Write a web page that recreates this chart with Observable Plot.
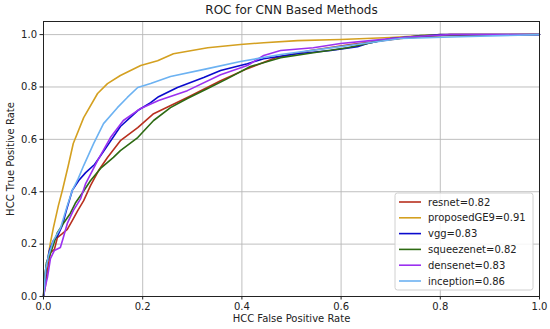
<!DOCTYPE html>
<html><head><meta charset="utf-8">
<script src="https://cdn.jsdelivr.net/npm/d3@7"></script>
<script src="https://cdn.jsdelivr.net/npm/@observablehq/plot@0.6"></script>
<style>body{margin:0;background:#fff} svg{font-family:"DejaVu Sans",sans-serif}</style>
</head><body><div id="chart"></div><script>
const title = "ROC for CNN Based Methods";
const xLabel = "HCC False Positive Rate";
const yLabel = "HCC True Positive Rate";
const seriesNames = ["resnet", "proposedGE9", "vgg", "squeezenet", "densenet", "inception"];
const aucValues = [0.82, 0.91, 0.83, 0.82, 0.83, 0.86];
const seriesColors = ["#b8301e", "#d4a020", "#0a0acd", "#2d6a12", "#9b30f0", "#6cb2f2"];
const tickValues = [0, 0.2, 0.4, 0.6, 0.8, 1.0];

const resnetFPR = [0, 0.004, 0.008, 0.014, 0.022, 0.028, 0.038, 0.048, 0.058, 0.069, 0.081, 0.095, 0.111, 0.129, 0.155, 0.19, 0.222, 0.29, 0.357, 0.411, 0.468, 0.538, 0.619, 0.72, 0.82, 1];
const resnetTPR = [0, 0.042, 0.1, 0.168, 0.18, 0.225, 0.24, 0.256, 0.29, 0.328, 0.366, 0.424, 0.481, 0.531, 0.595, 0.645, 0.698, 0.76, 0.824, 0.87, 0.912, 0.939, 0.962, 0.985, 1, 1];

const proposedFPR = [0, 0.002, 0.008, 0.014, 0.02, 0.03, 0.038, 0.05, 0.06, 0.081, 0.109, 0.129, 0.155, 0.196, 0.23, 0.262, 0.331, 0.397, 0.444, 0.512, 0.599, 0.70, 0.80, 1];
const proposedTPR = [0, 0.08, 0.137, 0.206, 0.263, 0.347, 0.405, 0.5, 0.584, 0.683, 0.775, 0.813, 0.844, 0.882, 0.90, 0.927, 0.95, 0.962, 0.969, 0.977, 0.981, 0.989, 1, 1];

const vggFPR = [0, 0.002, 0.006, 0.012, 0.02, 0.028, 0.038, 0.046, 0.058, 0.071, 0.085, 0.103, 0.129, 0.155, 0.19, 0.216, 0.232, 0.27, 0.323, 0.357, 0.411, 0.444, 0.512, 0.579, 0.633, 0.653, 0.70, 0.80, 1];
const vggTPR = [0, 0.042, 0.118, 0.176, 0.214, 0.229, 0.271, 0.328, 0.405, 0.443, 0.473, 0.504, 0.576, 0.649, 0.71, 0.74, 0.763, 0.798, 0.836, 0.863, 0.889, 0.908, 0.927, 0.939, 0.954, 0.966, 0.985, 1, 1];

const squeezenetFPR = [0, 0.002, 0.006, 0.014, 0.02, 0.028, 0.04, 0.054, 0.065, 0.079, 0.095, 0.115, 0.141, 0.155, 0.19, 0.222, 0.256, 0.29, 0.331, 0.371, 0.417, 0.478, 0.544, 0.613, 0.679, 0.76, 1];
const squeezenetTPR = [0, 0.061, 0.13, 0.164, 0.198, 0.244, 0.279, 0.317, 0.359, 0.397, 0.443, 0.489, 0.531, 0.557, 0.607, 0.672, 0.721, 0.756, 0.794, 0.832, 0.878, 0.912, 0.931, 0.95, 0.977, 0.996, 1];

const densenetFPR = [0, 0.004, 0.008, 0.014, 0.022, 0.034, 0.04, 0.048, 0.06, 0.075, 0.085, 0.109, 0.135, 0.161, 0.196, 0.232, 0.29, 0.357, 0.411, 0.444, 0.478, 0.544, 0.599, 0.659, 0.74, 0.82, 1];
const densenetTPR = [0, 0.042, 0.073, 0.145, 0.176, 0.187, 0.225, 0.279, 0.328, 0.374, 0.431, 0.519, 0.607, 0.672, 0.718, 0.748, 0.786, 0.847, 0.882, 0.92, 0.939, 0.95, 0.966, 0.977, 0.992, 1, 1];

const inceptionFPR = [0, 0.002, 0.004, 0.01, 0.02, 0.034, 0.048, 0.058, 0.07, 0.081, 0.101, 0.121, 0.149, 0.169, 0.19, 0.216, 0.256, 0.331, 0.397, 0.478, 0.599, 0.72, 0.84, 1];
const inceptionTPR = [0, 0.042, 0.1, 0.156, 0.214, 0.26, 0.347, 0.405, 0.45, 0.5, 0.584, 0.66, 0.721, 0.76, 0.798, 0.813, 0.84, 0.87, 0.897, 0.924, 0.954, 0.985, 0.992, 1];

const fprs = [resnetFPR, proposedFPR, vggFPR, squeezenetFPR, densenetFPR, inceptionFPR];
const tprs = [resnetTPR, proposedTPR, vggTPR, squeezenetTPR, densenetTPR, inceptionTPR];

const rows = seriesNames.flatMap((name, i) => fprs[i].map((f, j) => ({name, fpr: f, tpr: tprs[i][j]})));
const legendLabels = seriesNames.map((n, i) => `${n}=${aucValues[i].toFixed(2)}`);

const plot = Plot.plot({
  width: 550, height: 329,
  marginTop: 21, marginLeft: 43, marginRight: 11, marginBottom: 33,
  style: {fontFamily: "DejaVu Sans, sans-serif", fontSize: "10px", background: "#fff", color: "#222"},
  x: {domain: [0, 1]},
  y: {domain: [0, 1.05]},
  color: {domain: seriesNames, range: seriesColors},
  marks: [
    Plot.gridX(tickValues, {stroke: "#b8b8b8", strokeOpacity: 1, strokeWidth: 0.9}),
    Plot.gridY(tickValues, {stroke: "#b8b8b8", strokeOpacity: 1, strokeWidth: 0.9}),
    Plot.line(rows, {x: "fpr", y: "tpr", z: "name", stroke: "name", strokeWidth: 1.6}),
    Plot.frame({stroke: "#222", strokeWidth: 1}),
    Plot.axisX(tickValues, {tickSize: 3.5, tickFormat: d3.format(".1f"), label: null, tickPadding: 3, fontSize: 10}),
    Plot.axisY(tickValues, {tickSize: 3.5, tickFormat: d3.format(".1f"), label: null, tickPadding: 3, fontSize: 10}),
    Plot.text([title], {frameAnchor: "top", dy: -11, lineAnchor: "middle", fontSize: 12}),
    Plot.text([xLabel], {frameAnchor: "bottom", dy: 22, lineAnchor: "middle", fontSize: 10}),
    Plot.text([yLabel], {frameAnchor: "left", dx: -33, rotate: -90, lineAnchor: "middle", textAnchor: "middle", fontSize: 10})
  ]
});

// legend (matplotlib-style, lower right)
const svg = d3.select(plot);
const fr = {right: 550 - 11, bottom: 329 - 33};
const boxW = 138, boxH = 97;
const bx = fr.right - 6 - boxW, by = fr.bottom - 6 - boxH;
const lg = svg.append("g").attr("text-anchor", "start");
lg.append("rect").attr("x", bx).attr("y", by).attr("width", boxW).attr("height", boxH)
  .attr("rx", 2.5).attr("fill", "#fff").attr("fill-opacity", 0.85).attr("stroke", "#d0d0d0");
legendLabels.forEach((lab, i) => {
  const cy = by + 9 + i * 15.8;
  lg.append("line").attr("x1", bx + 4).attr("x2", bx + 26).attr("y1", cy).attr("y2", cy)
    .attr("stroke", seriesColors[i]).attr("stroke-width", 1.6);
  lg.append("text").attr("x", bx + 33).attr("y", cy).attr("dy", "0.35em")
    .attr("text-anchor", "start").attr("font-size", 10).attr("fill", "#222").text(lab);
});

document.getElementById("chart").append(plot);
</script></body></html>
